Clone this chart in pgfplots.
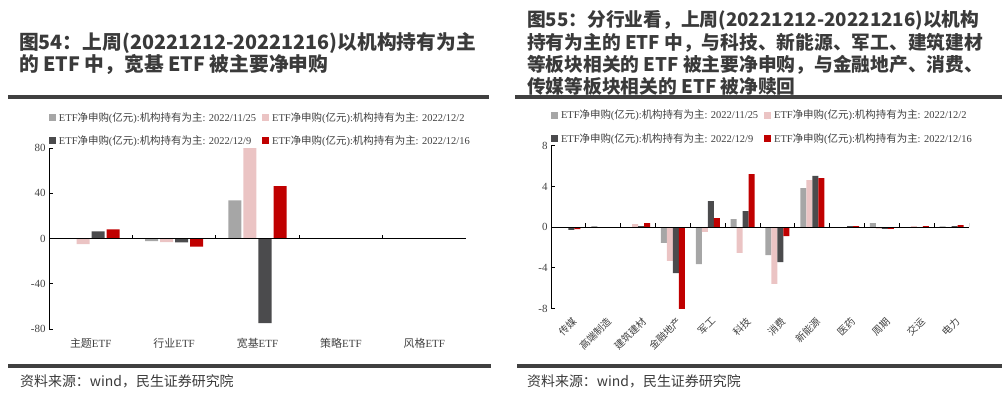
\documentclass[border=0pt]{standalone}
\usepackage{fontspec}
\setmainfont{Liberation Serif}
\newfontfamily\cjk{Noto Sans CJK SC}
\usepackage{pgfplots}
\pgfplotsset{compat=1.18}
\definecolor{cA}{HTML}{A6A6A6}
\definecolor{cB}{HTML}{EBC4C4}
\definecolor{cC}{HTML}{4B4B4D}
\definecolor{cD}{HTML}{C00000}
\definecolor{txt}{HTML}{404040}
\definecolor{ttl}{HTML}{3A3A3A}
\newcommand\zh[1]{{\cjk #1}}
\pgfplotsset{mybars/.style={
  scale only axis,
  axis lines*=left,
  x axis line style={draw=none},
  y axis line style={black, line width=0.9bp},
  xtick style={draw=none},
  ytick style={black, line width=0.9bp},
  tick align=inside,
  major tick length=4bp,
  /pgf/number format/assume math mode=true,
  ticklabel style={font=\fontsize{11}{12}\selectfont, color=txt},
  legend columns=2,
  legend cell align=left,
  legend style={draw=none, fill=none, at={(0,1)}, anchor=south west,
    font=\fontsize{10.5}{12}\selectfont\color{txt}, row sep=9bp,
    inner sep=0pt, outer sep=0pt, yshift=0bp,
    /tikz/every odd column/.append style={column sep=1bp},
    /tikz/every even column/.append style={column sep=4bp}},
}}
\begin{document}
\begin{tikzpicture}
\path[use as bounding box] (0,0) rectangle (1002bp,399bp);
% titles
\begin{scope}[every node/.style={inner sep=0pt, anchor=base west, text=ttl, font=\fontsize{19.8}{22}\selectfont\cjk\bfseries}]
\node at (19bp,{(399-49)*1bp}) {图54：上周(20221212-20221216)以机构持有为主};
\node at (19bp,{(399-71)*1bp}) {的 ETF 中，宽基 ETF 被主要净申购};
\end{scope}
\begin{scope}[every node/.style={inner sep=0pt, anchor=base west, text=ttl, font=\fontsize{18.8}{22}\selectfont\cjk\bfseries}]
\node at (527bp,{(399-26)*1bp}) {图55：分行业看，上周(20221212-20221216)以机构};
\node at (527bp,{(399-49)*1bp}) {持有为主的 ETF 中，与科技、新能源、军工、建筑建材};
\node at (527bp,{(399-71)*1bp}) {等板块相关的 ETF 被主要净申购，与金融地产、消费、};
\node at (527bp,{(399-93)*1bp}) {传媒等板块相关的 ETF 被净赎回};
\end{scope}
\draw[txt, line width=3.5bp] (8bp,302bp) -- (489bp,302bp);
\draw[txt, line width=3.5bp] (515bp,302bp) -- (1002bp,302bp);
\draw[txt, line width=3.5bp] (8bp,33bp) -- (491bp,33bp);
\draw[txt, line width=3.5bp] (517bp,33bp) -- (1002bp,33bp);
\node[inner sep=0pt, anchor=base west, text=ttl, font=\fontsize{14}{16}\selectfont\cjk] at (20bp,13bp) {资料来源：wind，民生证券研究院};
\node[inner sep=0pt, anchor=base west, text=ttl, font=\fontsize{14}{16}\selectfont\cjk] at (527bp,13bp) {资料来源：wind，民生证券研究院};

% left chart
\begin{axis}[mybars,
  at={(49bp,70bp)}, anchor=south west, width=417bp, height=181bp,
  ybar=2bp, bar width=13bp,
  legend image code/.code={\fill[#1, draw=none] (0bp,-3.5bp) rectangle (7bp,3.5bp);},
  xmin=-0.5, xmax=4.5, ymin=-80, ymax=80,
  ytick={-80,-40,0,40,80},
  xtick={0,1,2,3,4},
  xticklabels={\zh{主题}ETF,\zh{行业}ETF,\zh{宽基}ETF,\zh{策略}ETF,\zh{风格}ETF},
  xticklabel style={yshift=-2bp},
]
\addplot[fill=cA, draw=none] coordinates {(0,0) (1,-2.3) (2,33.8) (3,0) (4,0)};
\addplot[fill=cB, draw=none] coordinates {(0,-5) (1,-3.2) (2,85) (3,0) (4,0)};
\addplot[fill=cC, draw=none] coordinates {(0,6.2) (1,-3.5) (2,-74.7) (3,0) (4,0)};
\addplot[fill=cD, draw=none] coordinates {(0,8) (1,-7.1) (2,46.2) (3,0) (4,0)};
\addlegendentry{ETF\zh{净申购}(\zh{亿元}):\zh{机构持有为主}: 2022/11/25}
\addlegendentry{ETF\zh{净申购}(\zh{亿元}):\zh{机构持有为主}: 2022/12/2}
\addlegendentry{ETF\zh{净申购}(\zh{亿元}):\zh{机构持有为主}: 2022/12/9}
\addlegendentry{ETF\zh{净申购}(\zh{亿元}):\zh{机构持有为主}: 2022/12/16}
\draw[black, line width=0.9bp] (axis cs:-0.5,0) -- (axis cs:4.5,0);
\pgfplotsinvokeforeach{0.5,1.5,2.5,3.5,4.5}{\draw[black, line width=0.9bp] (axis cs:#1,0) -- ([yshift=4bp]axis cs:#1,0);}
\end{axis}

% right chart
\begin{axis}[mybars,
  at={(551bp,90.3bp)}, anchor=south west, width=418bp, height=163bp,
  ybar=0bp, bar width=6bp,
  legend image code/.code={\fill[#1, draw=none] (0bp,-3.5bp) rectangle (7bp,3.5bp);},
  xmin=-0.5, xmax=11.5, ymin=-8, ymax=8,
  ytick={-8,-4,0,4,8},
  xtick={0,1,...,11},
  xticklabels={\zh{传媒},\zh{高端制造},\zh{建筑建材},\zh{金融地产},\zh{军工},\zh{科技},\zh{消费},\zh{新能源},\zh{医药},\zh{周期},\zh{交运},\zh{电力}},
  xticklabel style={rotate=45, anchor=north east, xshift=3bp, yshift=-1bp, font=\fontsize{10}{11}\selectfont},
]
\addplot[fill=cA, draw=none] coordinates {(0,0) (1,0.1) (2,0) (3,-1.55) (4,-3.62) (5,0.8) (6,-2.73) (7,3.84) (8,0) (9,0.4) (10,0) (11,0.08)};
\addplot[fill=cB, draw=none] coordinates {(0,0) (1,0) (2,0.3) (3,-3.3) (4,-0.47) (5,-2.53) (6,-5.57) (7,4.63) (8,0) (9,-0.13) (10,0.1) (11,0)};
\addplot[fill=cC, draw=none] coordinates {(0,-0.27) (1,0) (2,0.1) (3,-4.5) (4,2.57) (5,1.58) (6,-3.42) (7,5.03) (8,0.1) (9,-0.16) (10,0) (11,0.1)};
\addplot[fill=cD, draw=none] coordinates {(0,-0.18) (1,0) (2,0.4) (3,-8.15) (4,0.88) (5,5.2) (6,-0.88) (7,4.82) (8,0.1) (9,-0.16) (10,0.1) (11,0.2)};
\addlegendentry{ETF\zh{净申购}(\zh{亿元}):\zh{机构持有为主}: 2022/11/25}
\addlegendentry{ETF\zh{净申购}(\zh{亿元}):\zh{机构持有为主}: 2022/12/2}
\addlegendentry{ETF\zh{净申购}(\zh{亿元}):\zh{机构持有为主}: 2022/12/9}
\addlegendentry{ETF\zh{净申购}(\zh{亿元}):\zh{机构持有为主}: 2022/12/16}
\draw[black, line width=0.9bp] (axis cs:-0.5,0) -- (axis cs:11.5,0);
\pgfplotsinvokeforeach{0.5,1.5,...,11.5}{\draw[black, line width=0.9bp] (axis cs:#1,0) -- ([yshift=4bp]axis cs:#1,0);}
\end{axis}
\end{tikzpicture}
\end{document}
